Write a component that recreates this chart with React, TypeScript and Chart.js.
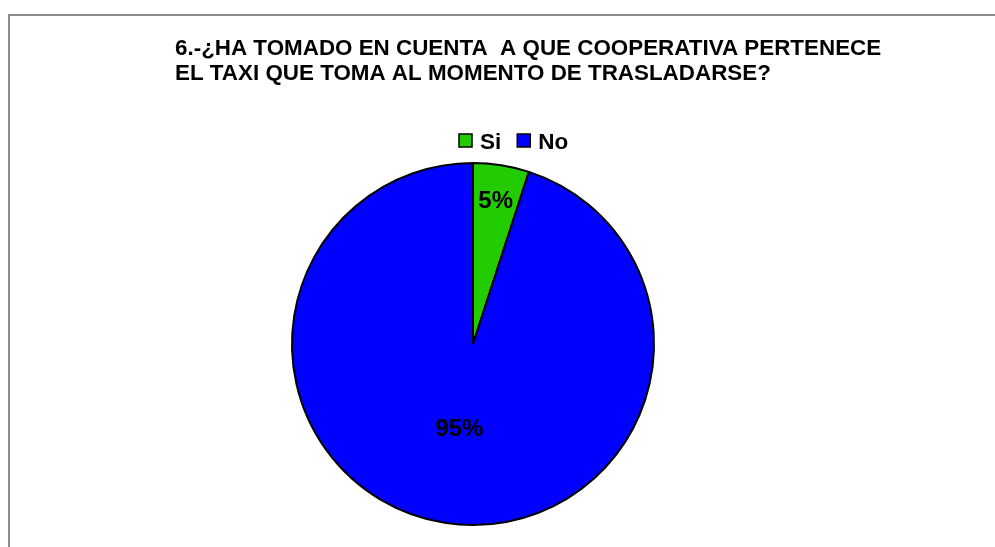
import React, { useEffect, useRef } from "react";
import { Chart, registerables } from "chart.js";

Chart.register(...registerables);

const categories = ["Si", "No"];
const values = [5, 95];
const sliceColors = ["#22cc00", "#0000ff"];
const titleLines = [
  "6.-¿HA TOMADO EN CUENTA  A QUE COOPERATIVA PERTENECE",
  "EL TAXI QUE TOMA AL MOMENTO DE TRASLADARSE?",
];
const labelRadiusFractions = [0.8, 0.48];

const FONT = '"Liberation Sans", Arial, sans-serif';

const framePlugin = {
  id: "frame",
  beforeDraw(chart: any) {
    const ctx = chart.ctx;
    ctx.save();
    ctx.fillStyle = "#ffffff";
    ctx.fillRect(0, 0, chart.width, chart.height);
    ctx.strokeStyle = "#8c8c8c";
    ctx.lineWidth = 2;
    ctx.beginPath();
    ctx.moveTo(9, chart.height + 5);
    ctx.lineTo(9, 15);
    ctx.lineTo(chart.width + 5, 15);
    ctx.stroke();
    ctx.restore();
  },
};

const titlePlugin = {
  id: "customTitle",
  afterDraw(chart: any) {
    const ctx = chart.ctx;
    ctx.save();
    ctx.fillStyle = "#000";
    ctx.font = `bold 22.4px ${FONT}`;
    ctx.textAlign = "left";
    ctx.textBaseline = "alphabetic";
    ctx.fillText(titleLines[0], 175, 55);
    ctx.fillText(titleLines[1], 175, 80);
    ctx.restore();
  },
};

const legendPlugin = {
  id: "customLegend",
  afterDraw(chart: any) {
    const ctx = chart.ctx;
    const labels: string[] = chart.data.labels;
    const colors: string[] = chart.data.datasets[0].backgroundColor;
    ctx.save();
    ctx.font = `bold 22.5px ${FONT}`;
    ctx.textBaseline = "alphabetic";
    let x = 459;
    labels.forEach((lab, i) => {
      ctx.fillStyle = colors[i];
      ctx.fillRect(x, 134, 13, 13);
      ctx.strokeStyle = "#000";
      ctx.lineWidth = 1.5;
      ctx.strokeRect(x, 134, 13, 13);
      ctx.fillStyle = "#000";
      ctx.fillText(lab, x + 21, 149);
      x += 21 + ctx.measureText(lab).width + 16;
    });
    ctx.restore();
  },
};

const sliceLabelPlugin = {
  id: "sliceLabels",
  afterDatasetsDraw(chart: any) {
    const ctx = chart.ctx;
    const meta = chart.getDatasetMeta(0);
    const data: number[] = chart.data.datasets[0].data;
    const total = data.reduce((a, b) => a + b, 0);
    ctx.save();
    ctx.font = `bold 24px ${FONT}`;
    ctx.fillStyle = "#000";
    ctx.textAlign = "center";
    ctx.textBaseline = "middle";
    meta.data.forEach((arc: any, i: number) => {
      const { x, y, startAngle, endAngle, outerRadius } = arc.getProps(
        ["x", "y", "startAngle", "endAngle", "outerRadius"],
        true
      );
      const mid = (startAngle + endAngle) / 2;
      const r = outerRadius * labelRadiusFractions[i];
      const pct = Math.round((data[i] / total) * 100) + "%";
      ctx.fillText(pct, x + Math.cos(mid) * r, y + Math.sin(mid) * r);
    });
    ctx.restore();
  },
};

export default function App() {
  const ref = useRef<HTMLCanvasElement | null>(null);
  useEffect(() => {
    document.body.style.margin = "0";
    const canvas = ref.current!;
    const chart = new Chart(canvas, {
      type: "pie",
      data: {
        labels: categories,
        datasets: [
          {
            data: values,
            backgroundColor: sliceColors,
            borderColor: "#000000",
            borderWidth: 2,
          },
        ],
      },
      options: {
        animation: false,
        responsive: false,
        devicePixelRatio: 1,
        radius: 181,
        layout: { padding: { left: 0, right: 49, top: 141, bottom: 0 } },
        plugins: {
          legend: { display: false },
          title: { display: false },
          tooltip: { enabled: false },
        },
      } as any,
      plugins: [framePlugin, titlePlugin, legendPlugin, sliceLabelPlugin],
    });
    return () => chart.destroy();
  }, []);
  return (
    <div style={{ width: 995, height: 547 }}>
      <canvas ref={ref} width={995} height={547} style={{ display: "block" }} />
    </div>
  );
}
